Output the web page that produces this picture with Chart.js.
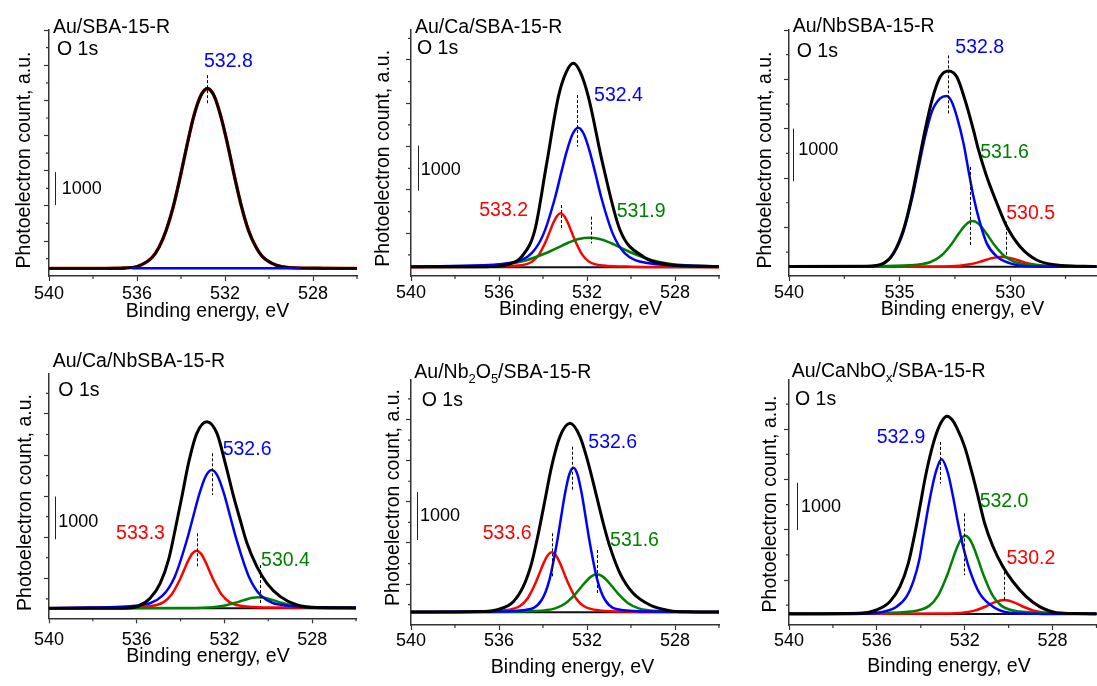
<!DOCTYPE html>
<html>
<head>
<meta charset="utf-8">
<title>O 1s spectra</title>
<script src="https://cdn.jsdelivr.net/npm/chart.js@4.4.1/dist/chart.umd.min.js"></script>
<style>
  html, body { margin: 0; padding: 0; background: #fff; }
  #fig { position: relative; width: 1097px; height: 686px; overflow: hidden; background: #fff; }
  #fig canvas { position: absolute; }
</style>
</head>
<body>
<div id="fig"></div>
<script>
// O 1s spectra, six samples. Pairs are [binding energy eV, counts].

// 1. Au/SBA-15-R
const p1Peak = [[540,232],[537.5,232],[536.55,243],[535.93,303],[535.3,573],[534.99,885],[534.68,1377],[534.36,2079],[534.05,2959],[533.74,3925],[533.43,4819],[533.11,5455],[532.8,5686],[532.49,5455],[532.18,4819],[531.86,3925],[531.55,2959],[531.24,2079],[530.93,1377],[530.61,900],[530.3,590],[529.68,330],[529.05,255],[527.5,234],[526,232]];
const p1Baseline = [[536.2,232],[528.6,232]];

// 2. Au/Ca/SBA-15-R
const p2Envelope = [[540,205],[537.5,205],[536.5,208],[535.65,250],[534.97,429],[534.37,1021],[533.85,2450],[533.3,3981],[532.95,4520],[532.62,4721],[532.3,4520],[531.94,3981],[531.29,2501],[530.5,1021],[529.44,429],[528.23,250],[527,215],[526,212]];
const p2Blue = [[540,205],[537.65,229],[535.55,290],[534.5,515],[533.975,935],[533.45,1743],[533.19,2258],[532.925,2762],[532.66,3146],[532.4,3293],[532.14,3146],[531.875,2762],[531.61,2258],[531.35,1743],[530.825,935],[530.3,515],[529.25,290],[527.15,229],[526,212]];
const p2Red = [[540,196],[536.45,207],[535.15,231],[534.5,317],[534.175,480],[533.85,792],[533.6875,991],[533.525,1186],[533.3625,1334],[533.2,1391],[533.0375,1334],[532.875,1186],[532.7125,991],[532.55,792],[532.225,480],[531.9,317],[531.25,231],[529.95,207],[526,196]];
const p2Green = [[540,203],[537.6,214],[535.7,261],[534.75,351],[533.8,522],[533.325,631],[532.85,738],[532.375,820],[531.9,851],[531.425,820],[530.95,738],[530.475,631],[530,522],[529.05,351],[528.1,261],[526,214]];
const p2Baseline = [[540,193],[526,193]];

// 3. Au/NbSBA-15-R
const p3Envelope = [[540,180],[536.5,185],[535.73,241],[535.28,431],[534.83,875],[534.45,1508],[534.15,2141],[533.85,2774],[533.54,3344],[533.17,3787],[532.79,3901],[532.41,3787],[532.04,3344],[531.66,2774],[531.43,2394],[531.06,1887],[530.6,1381],[530.15,937],[529.55,558],[528.8,304],[527.89,209],[526.68,185],[526,180]];
const p3Blue = [[540,177],[536.5,183],[535.73,235],[535.28,420],[534.83,840],[534.45,1450],[534.15,2050],[533.85,2650],[533.54,3130],[533.17,3380],[532.87,3426],[532.65,3320],[532.41,3027],[532.11,2520],[531.89,2014],[531.66,1508],[531.36,1001],[531.06,621],[530.6,368],[530,241],[529.4,190],[528,178],[526,177]];
const p3Green = [[540,180],[536.45,187],[534.55,204],[533.6,267],[533.125,385],[532.65,611],[532.4125,755],[532.175,896],[531.9375,1004],[531.7,1045],[531.4625,1004],[531.225,896],[530.9875,755],[530.75,611],[530.275,385],[529.8,267],[528.85,204],[526.95,187],[526,185]];
const p3Red = [[540,177],[533.25,183],[532.3,197],[531.825,223],[531.35,273],[530.875,335],[530.4,368],[529.925,335],[529.45,273],[528.975,223],[528.5,197],[527.55,183],[526,178]];
const p3Baseline = [[540,177],[526,177]];

// 4. Au/Ca/NbSBA-15-R
const p4Envelope = [[540,236],[536.6,238],[535.92,288],[535.39,468],[534.93,819],[534.55,1365],[534.25,2066],[533.94,2846],[533.64,3626],[533.26,4328],[532.8,4601],[532.34,4328],[531.96,3626],[531.58,2846],[531.28,2300],[530.97,1754],[530.52,1209],[530.06,819],[529.45,507],[528.69,312],[527.78,250],[526,245]];
const p4Blue = [[540,236],[538.2,250],[535.95,300],[534.825,530],[534.26,980],[533.7,1852],[533.42,2389],[533.14,2915],[532.86,3317],[532.58,3470],[532.3,3317],[532.02,2915],[531.74,2389],[531.455,1852],[530.89,980],[530.33,530],[529.2,300],[526.95,250],[526,245]];
const p4Red = [[540,236],[537.07,250],[535.55,276],[534.79,374],[534.41,557],[534.03,908],[533.84,1132],[533.65,1351],[533.46,1518],[533.27,1582],[533.08,1518],[532.89,1351],[532.7,1132],[532.51,908],[532.13,557],[531.75,374],[530.99,276],[529.47,250],[526,237]];
const p4Green = [[540,235],[533.6,242],[532.55,261],[532.025,296],[531.5,363],[531.2375,405],[530.975,447],[530.7125,479],[530.45,491],[530.1875,479],[529.925,447],[529.6625,405],[529.4,363],[528.875,296],[528.35,261],[527.3,242],[526,238]];
const p4Baseline = [[540,234],[526,234]];

// 5. Au/Nb2O5/SBA-15-R
const p5Envelope = [[540,268],[536.71,280],[535.96,333],[535.35,485],[534.9,797],[534.52,1283],[534.21,1907],[533.91,2600],[533.61,3294],[533.23,3918],[532.77,4195],[532.32,3918],[531.94,3363],[531.56,2669],[531.26,2115],[530.96,1630],[530.5,1075],[529.9,659],[529.14,416],[528.23,298],[527.5,275],[526,270]];
const p5Blue = [[540,268],[536.245,281],[534.795,314],[534.07,514],[533.7075,940],[533.345,1768],[533.164,2284],[532.9825,2775],[532.801,3137],[532.62,3272],[532.439,3137],[532.2575,2775],[532.076,2284],[531.895,1768],[531.5325,940],[531.17,514],[530.445,314],[528.995,281],[526,268]];
const p5Red = [[540,268],[537.225,278],[535.775,303],[535.05,394],[534.6875,563],[534.325,888],[534.144,1095],[533.9625,1298],[533.781,1453],[533.6,1512],[533.419,1453],[533.2375,1298],[533.056,1095],[532.875,888],[532.5125,563],[532.15,394],[531.425,303],[529.975,278],[526,268]];
const p5Green = [[540,268],[536.3,273],[534.4,289],[533.45,346],[532.975,453],[532.5,659],[532.2625,790],[532.025,919],[531.7875,1017],[531.55,1054],[531.3125,1017],[531.075,919],[530.8375,790],[530.6,659],[530.125,453],[529.65,346],[528.7,289],[526.8,273],[526,270]];
const p5Baseline = [[540,264],[526,264]];

// 6. Au/CaNbOx/SBA-15-R
const p6Envelope = [[540,236],[536.77,246],[536.01,317],[535.41,492],[534.95,809],[534.57,1301],[534.27,1934],[534.04,2497],[533.82,3059],[533.59,3552],[533.29,4044],[533.05,4300],[532.8,4410],[532.58,4340],[532.38,4185],[532,3763],[531.7,3270],[531.39,2708],[531.09,2145],[530.71,1653],[530.26,1231],[529.8,914],[529.2,598],[528.59,387],[527.83,260],[527,242],[526,240]];
const p6Blue = [[540,232],[536.6,240],[535.71,281],[535.1,387],[534.65,598],[534.32,949],[534.07,1371],[533.89,1864],[533.71,2356],[533.51,2848],[533.29,3271],[533.06,3503],[532.76,3201],[532.53,2708],[532.3,2145],[532.07,1653],[531.77,1160],[531.32,668],[530.71,387],[529.95,260],[528.5,235],[526,232]];
const p6Green = [[540,236],[536.095,251],[534.445,284],[533.62,404],[533.2075,628],[532.795,1058],[532.589,1333],[532.3825,1602],[532.176,1807],[531.97,1885],[531.764,1807],[531.5575,1602],[531.351,1333],[531.145,1058],[530.7325,628],[530.32,404],[529.495,284],[527.845,251],[526,240]];
const p6Red = [[540,233],[532.9,241],[532,263],[531.55,303],[531.1,380],[530.875,429],[530.65,477],[530.425,514],[530.2,528],[529.975,514],[529.75,477],[529.525,429],[529.3,380],[528.85,303],[528.4,263],[527.5,241],[526,235]];
const p6Baseline = [[540,232],[526,232]];

// x tick values
const xMajorStd = [540, 536, 532, 528];
const xMinorStd = [538, 534, 530, 526];
const xMajorWide = [540, 535, 530];
const xMinorWide = [537.5, 532.5, 527.5];
const scaleBarCounts = 1000;

const FONT = "'Liberation Sans', Arial, Helvetica, sans-serif";
const BLUE = '#0000ff', RED = '#ff0000', GREEN = '#008000', BLACK = '#000000', AXIS = '#333333';
const W_ENV = 3, W_COMP = 2.5, W_BASE = 2;

// 2. layout for each panel (page pixels: box = canvas, area = plot frame)
const panels = [
  { box: [0, 0, 362, 340], area: [49, 30, 357, 276], xMin: 526, yMax: 7460, yStart: 1061, yStep: 1066,
    xMajor: xMajorStd, xMinor: xMinorStd, tickPad: 2,
    title: [['Au/SBA-15-R', 0]], titleAt: [53, 32.5], o1sAt: [57, 55], yTitleAt: [29.5, 160], xTitleAt: [207.5, 316.5],
    bar: { dx: 6, y0: 2151 }, barTextAt: [61.7, 194.3],
    lines: [{ d: p1Baseline, c: BLUE, w: 2.5 }, { d: p1Peak, c: BLACK, w: 2.8 }, { d: p1Peak, c: RED, w: 3.4 }],
    marks: [{ e: 532.8, y1: 6090, y2: 5181 }],
    labels: [{ t: '532.8', c: BLUE, e: 532.955, y: 6333 }] },
  { box: [362, 0, 362, 340], area: [411, 30, 719, 276], xMin: 526, yMax: 5461, yStart: 948, yStep: 962,
    xMajor: xMajorStd, xMinor: xMinorStd, tickPad: 1.5,
    title: [['Au/Ca/SBA-15-R', 0]], titleAt: [415, 32.5], o1sAt: [417, 53.5], yTitleAt: [389, 158.3], xTitleAt: [580.7, 315],
    bar: { dx: 7.3, y0: 1894 }, barTextAt: [420.7, 175],
    lines: [{ d: p2Envelope, c: BLACK, w: W_ENV }, { d: p2Blue, c: BLUE, w: W_COMP }, { d: p2Green, c: GREEN, w: W_COMP },
            { d: p2Red, c: RED, w: W_COMP }, { d: p2Baseline, c: '#111', w: W_BASE }],
    marks: [{ e: 532.44, y1: 4018, y2: 2871 }, { e: 533.18, y1: 1576, y2: 1021 }, { e: 531.83, y1: 1317, y2: 725 }],
    labels: [{ t: '532.4', c: BLUE, e: 531.68, y: 3885 }, { t: '533.2', c: RED, e: 536.9, y: 1339 }, { t: '531.9', c: GREEN, e: 530.65, y: 1303 }] },
  { box: [730, 0, 367, 340], area: [789, 30, 1096.5, 276], xMin: 526.1, yMax: 4682, yStart: 925, yStep: 939,
    xMajor: xMajorWide, xMinor: xMinorWide, tickPad: 1.2,
    title: [['Au/NbSBA-15-R', 0]], titleAt: [792.7, 31.5], o1sAt: [796.7, 57], yTitleAt: [770.7, 160], xTitleAt: [962.5, 315],
    bar: { dx: 4.3, y0: 1805 }, barTextAt: [798.3, 155],
    lines: [{ d: p3Envelope, c: BLACK, w: W_ENV }, { d: p3Blue, c: BLUE, w: W_COMP }, { d: p3Green, c: GREEN, w: W_COMP },
            { d: p3Red, c: RED, w: W_COMP }, { d: p3Baseline, c: '#111', w: W_BASE }],
    marks: [{ e: 532.82, y1: 4199, y2: 3059 }, { e: 531.84, y1: 2077, y2: 557 }, { e: 530.2, y1: 1032, y2: 367 }],
    labels: [{ t: '532.8', c: BLUE, e: 532.48, y: 4243 }, { t: '531.6', c: GREEN, e: 531.36, y: 2255 }, { t: '530.5', c: RED, e: 530.18, y: 1083 }] },
  { box: [0, 340, 362, 346], area: [49, 373.3, 356, 618.3], xMin: 526, yMax: 5733, yStart: 937, yStep: 961,
    xMajor: xMajorStd, xMinor: xMinorStd, tickPad: 5.6,
    title: [['Au/Ca/NbSBA-15-R', 0]], titleAt: [52.7, 367], o1sAt: [58.3, 396], yTitleAt: [30.7, 502.5], xTitleAt: [208, 661.7],
    bar: { dx: 5.7, y0: 1849 }, barTextAt: [58.3, 527.3],
    lines: [{ d: p4Envelope, c: BLACK, w: W_ENV }, { d: p4Blue, c: BLUE, w: W_COMP }, { d: p4Green, c: GREEN, w: W_COMP },
            { d: p4Red, c: RED, w: W_COMP }, { d: p4Baseline, c: '#111', w: W_BASE }],
    marks: [{ e: 532.57, y1: 3861, y2: 2885 }, { e: 533.27, y1: 1989, y2: 1170 }, { e: 530.36, y1: 1247, y2: 311 }],
    labels: [{ t: '532.6', c: BLUE, e: 532.08, y: 3821 }, { t: '533.3', c: RED, e: 536.94, y: 1849 }, { t: '530.4', c: GREEN, e: 530.33, y: 1224 }] },
  { box: [362, 340, 362, 346], area: [411, 379.3, 719, 625], xMin: 526, yMax: 5111, yStart: 850, yStep: 856,
    xMajor: xMajorStd, xMinor: xMinorStd, tickPad: 0,
    title: [['Au/Nb', 0], ['2', 1], ['O', 0], ['5', 1], ['/SBA-15-R', 0]], titleAt: [414.3, 378], o1sAt: [421.7, 405.7], yTitleAt: [399, 497.5], xTitleAt: [572.5, 673.3],
    bar: { dx: 6.3, y0: 1768 }, barTextAt: [420, 521],
    lines: [{ d: p5Envelope, c: BLACK, w: W_ENV }, { d: p5Blue, c: BLUE, w: W_COMP }, { d: p5Green, c: GREEN, w: W_COMP },
            { d: p5Red, c: RED, w: W_COMP }, { d: p5Baseline, c: '#111', w: W_BASE }],
    marks: [{ e: 532.68, y1: 3709, y2: 2773 }, { e: 533.61, y1: 1907, y2: 1005 }, { e: 531.53, y1: 1560, y2: 659 }],
    labels: [{ t: '532.6', c: BLUE, e: 531.94, y: 3675 }, { t: '533.6', c: RED, e: 536.74, y: 1789 }, { t: '531.6', c: GREEN, e: 530.95, y: 1650 }] },
  { box: [730, 340, 367, 346], area: [789, 379.3, 1096.5, 625], xMin: 526, yMax: 5191, yStart: 950, yStep: 1062,
    xMajor: xMajorStd, xMinor: xMinorStd, tickPad: 0,
    title: [['Au/CaNbO', 0], ['x', 1], ['/SBA-15-R', 0]], titleAt: [791.7, 377], o1sAt: [795, 405], yTitleAt: [775.7, 504], xTitleAt: [949, 671.7],
    bar: { dx: 7.7, y0: 2005 }, barTextAt: [801, 511.7],
    lines: [{ d: p6Envelope, c: BLACK, w: W_ENV }, { d: p6Blue, c: BLUE, w: W_COMP }, { d: p6Green, c: GREEN, w: W_COMP },
            { d: p6Red, c: RED, w: W_COMP }, { d: p6Baseline, c: '#111', w: W_BASE }],
    marks: [{ e: 533.13, y1: 3868, y2: 2990 }, { e: 532.03, y1: 2357, y2: 1055 }, { e: 530.21, y1: 1230, y2: 528 }],
    labels: [{ t: '532.9', c: BLUE, e: 536.01, y: 3847 }, { t: '532.0', c: GREEN, e: 531.32, y: 2497 }, { t: '530.2', c: RED, e: 530.1, y: 1287 }] }
];

function pts(a) { return a.map(([x, y]) => ({ x, y })); }

function say(ctx, s, x, y, size, color, align) {
  ctx.font = size + 'px ' + FONT;
  ctx.fillStyle = color;
  ctx.textAlign = align || 'left';
  ctx.textBaseline = 'alphabetic';
  ctx.fillText(s, x, y);
}

// 3. dashed peak markers, minor ticks, scale bar and all free text
function decorFor(p) {
  const L = p.box[0], T = p.box[1];
  return {
    id: 'decor',
    afterDatasetsDraw(chart) {
      const { ctx, scales: { x, y } } = chart;
      ctx.save();
      ctx.strokeStyle = '#000';
      ctx.lineWidth = 1;
      ctx.setLineDash([3, 2]);
      p.marks.forEach(m => {
        const px = Math.round(x.getPixelForValue(m.e)) + 0.5;
        ctx.beginPath();
        ctx.moveTo(px, y.getPixelForValue(m.y1));
        ctx.lineTo(px, y.getPixelForValue(m.y2));
        ctx.stroke();
      });
      ctx.restore();
      ctx.save();
      p.labels.forEach(l => say(ctx, l.t, x.getPixelForValue(l.e), y.getPixelForValue(l.y), 19.5, l.c));
      ctx.restore();
    },
    afterDraw(chart) {
      const { ctx, chartArea: a, scales: { x, y } } = chart;
      ctx.save();
      ctx.strokeStyle = AXIS;
      ctx.lineWidth = 1.2;
      ctx.beginPath();
      p.xMinor.forEach(v => {
        const px = x.getPixelForValue(v);
        ctx.moveTo(px, a.bottom);
        ctx.lineTo(px, a.bottom + 3);
      });
      for (let v = p.yStart - p.yStep / 2; v <= p.yMax; v += p.yStep) {
        if (v < 0) continue;
        const py = y.getPixelForValue(v);
        ctx.moveTo(a.left, py);
        ctx.lineTo(a.left - 3, py);
      }
      ctx.stroke();

      // 1000-count scale bar
      ctx.strokeStyle = '#222';
      ctx.lineWidth = 1;
      const bx = Math.round(a.left + p.bar.dx) + 0.5;
      ctx.beginPath();
      ctx.moveTo(bx, y.getPixelForValue(p.bar.y0));
      ctx.lineTo(bx, y.getPixelForValue(p.bar.y0 + scaleBarCounts));
      ctx.stroke();
      say(ctx, String(scaleBarCounts), p.barTextAt[0] - L, p.barTextAt[1] - T, 18, '#000');

      // sample name with subscripts
      let cx = p.titleAt[0] - L;
      p.title.forEach(([s, sub]) => {
        say(ctx, s, cx, p.titleAt[1] - T + (sub ? 5 : 0), sub ? 13 : 19.5, '#000');
        cx += ctx.measureText(s).width;
      });
      say(ctx, 'O 1s', p.o1sAt[0] - L, p.o1sAt[1] - T, 19.5, '#000');
      say(ctx, 'Binding energy, eV', p.xTitleAt[0] - L, p.xTitleAt[1] - T, 19.5, '#000', 'center');

      ctx.translate(p.yTitleAt[0] - L, p.yTitleAt[1] - T);
      ctx.rotate(-Math.PI / 2);
      say(ctx, 'Photoelectron count, a.u.', 0, 0, 19.5, '#000', 'center');
      ctx.restore();
    }
  };
}

Chart.defaults.font.family = FONT;
Chart.defaults.color = '#000';

const fig = document.getElementById('fig');
panels.forEach(p => {
  const [L, T, W, H] = p.box;
  const [al, at, ar, ab] = p.area;
  const cv = document.createElement('canvas');
  cv.width = W;
  cv.height = H;
  cv.style.left = L + 'px';
  cv.style.top = T + 'px';
  fig.appendChild(cv);

  const axisBits = {
    grid: { drawOnChartArea: false, drawTicks: true, tickLength: 5, tickColor: AXIS, tickWidth: 1.2 },
    border: { display: true, color: AXIS, width: 1.5 }
  };

  new Chart(cv, {
    type: 'line',
    data: {
      datasets: p.lines.map(l => ({
        data: pts(l.d),
        borderColor: l.c,
        borderWidth: l.w,
        pointRadius: 0,
        fill: false,
        tension: 0.4,
        cubicInterpolationMode: 'monotone',
        borderJoinStyle: 'round',
        borderCapStyle: 'round'
      }))
    },
    options: {
      responsive: false,
      animation: false,
      devicePixelRatio: 1,
      layout: { padding: { left: 0, top: at - T, right: L + W - ar, bottom: 0 } },
      plugins: { legend: { display: false }, tooltip: { enabled: false } },
      scales: {
        x: {
          type: 'linear', min: p.xMin, max: 540, reverse: true,
          afterBuildTicks: s => { s.ticks = p.xMajor.map(v => ({ value: v })); },
          afterFit: s => { s.height = T + H - ab; },
          ticks: { font: { size: 18 }, color: '#000', padding: p.tickPad, maxRotation: 0, autoSkip: false, callback: v => String(v) },
          ...axisBits
        },
        y: {
          type: 'linear', min: 0, max: p.yMax,
          afterBuildTicks: s => {
            const t = [];
            for (let v = p.yStart; v <= p.yMax + 1; v += p.yStep) t.push({ value: v });
            s.ticks = t;
          },
          afterFit: s => { s.width = al - L; },
          ticks: { display: false },
          ...axisBits
        }
      }
    },
    plugins: [decorFor(p)]
  });
});
</script>
</body>
</html>
